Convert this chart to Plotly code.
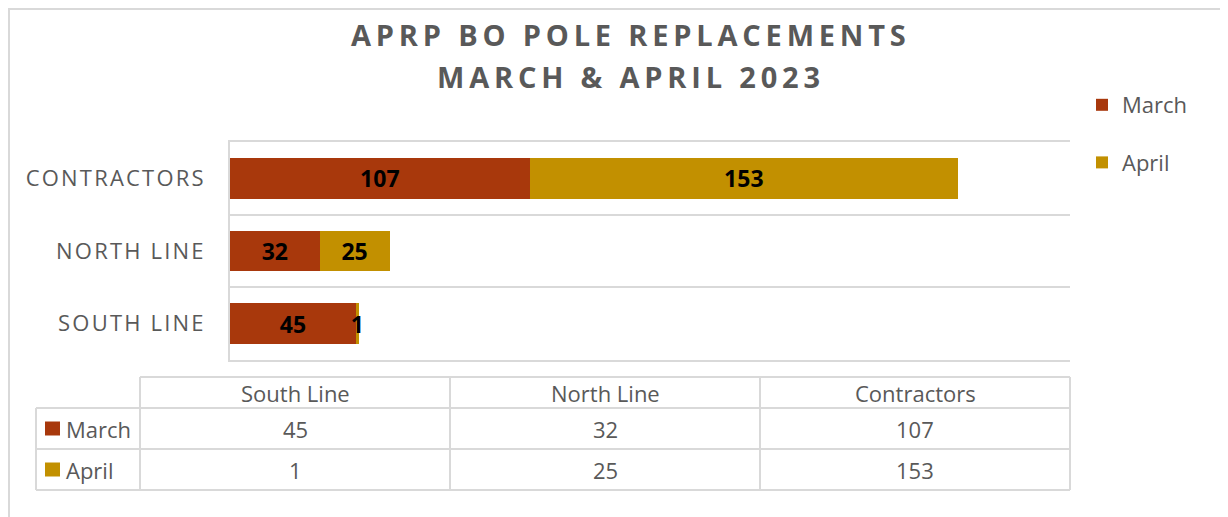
import plotly.graph_objects as go

# ---- data ----
categories = ["South Line", "North Line", "Contractors"]
series_names = ["March", "April"]
march = [45, 32, 107]
april = [1, 25, 153]
series_values = [march, april]
colors = ["#A8380C", "#C29000"]
title_lines = ["APRP BO POLE REPLACEMENTS", "MARCH & APRIL 2023"]

W, H = 1228, 517
OFF = 8  # page body margin: figure starts 8px right/down in the screenshot
GRAY = "#595959"
LINE = "#D9D9D9"
FONT = "Open Sans, Segoe UI, Noto Sans, sans-serif"


def px(x):
    return (x - OFF) / W


def py(y):
    return 1 - (y - OFF) / H


def spaced(s, sep="\u2009"):
    return sep.join(list(s))


fig = go.Figure()
for i, name in enumerate(series_names):
    fig.add_trace(go.Bar(
        y=categories, x=series_values[i], name=name, orientation="h",
        marker=dict(color=colors[i], line=dict(width=0)),
        text=series_values[i], texttemplate="<b>%{x}</b>",
        textposition="inside", insidetextanchor="middle", constraintext="none",
        textfont=dict(family=FONT, size=23, color="black"),
        legendgroup=name, cliponaxis=False, hoverinfo="skip",
    ))

# plot area in screen pixels: x 230..1070, y 142..360
fig.update_layout(
    width=W, height=H, margin=dict(l=0, r=0, t=0, b=0),
    paper_bgcolor="white", plot_bgcolor="white",
    barmode="stack", bargap=0.44,
    font=dict(family=FONT, color=GRAY),
    xaxis=dict(domain=[px(230), px(1070)], range=[0, 300], showgrid=False,
               showticklabels=False, zeroline=False,
               showline=True, mirror=True, linecolor=LINE, linewidth=2, ticks="",
               fixedrange=True),
    yaxis=dict(domain=[py(360), py(142)], type="category", tickson="boundaries",
               showgrid=True, gridcolor=LINE, gridwidth=2,
               showline=True, linecolor=LINE, linewidth=2,
               ticks="", ticklabelstandoff=20,
               tickvals=categories,
               ticktext=[spaced(c.upper(), "\u200a") for c in categories],
               tickfont=dict(family=FONT, size=22, color=GRAY), fixedrange=True),
    showlegend=True,
    legend=dict(x=px(1082), y=py(84), xanchor="left", yanchor="top",
                font=dict(family=FONT, size=22, color=GRAY),
                traceorder="grouped", tracegroupgap=26, bgcolor="rgba(0,0,0,0)"),
)

annotations = []
shapes = []

# title
for k, line in enumerate(title_lines):
    annotations.append(dict(
        x=px(628), y=py(34 + 42 * k), xref="paper", yref="paper",
        text="<b>" + spaced(line, "\u2009") + "</b>", showarrow=False,
        xanchor="center", yanchor="middle",
        font=dict(family=FONT, size=29, color=GRAY)))

# chart border (as close to the figure edge as the page allows)
shapes.append(dict(type="rect", xref="paper", yref="paper",
                   x0=px(9), x1=px(1225), y0=py(540), y1=py(9),
                   line=dict(color=LINE, width=2)))

# data table
t_left, leg_left = 140, 36
col_w = 310
y_head, y_r1, y_r2, y_end = 377, 408, 449, 490
t_right = t_left + col_w * len(categories)


def hline(x0, x1, y):
    shapes.append(dict(type="line", xref="paper", yref="paper",
                       x0=px(x0), x1=px(x1), y0=py(y), y1=py(y),
                       line=dict(color=LINE, width=2)))


def vline(x, y0, y1):
    shapes.append(dict(type="line", xref="paper", yref="paper",
                       x0=px(x), x1=px(x), y0=py(y0), y1=py(y1),
                       line=dict(color=LINE, width=2)))


hline(t_left, t_right, y_head)
for yy in (y_r1, y_r2, y_end):
    hline(leg_left, t_right, yy)
vline(leg_left, y_r1, y_end)
for j in range(len(categories) + 1):
    vline(t_left + j * col_w, y_head, y_end)

TFS = 22
for j, cat in enumerate(categories):
    cx = t_left + col_w * (j + 0.5)
    annotations.append(dict(x=px(cx), y=py((y_head + y_r1) / 2), xref="paper", yref="paper",
                            text=cat, showarrow=False, xanchor="center", yanchor="middle",
                            font=dict(family=FONT, size=TFS, color=GRAY)))
row_tops = [y_r1, y_r2]
for i, name in enumerate(series_names):
    cy = row_tops[i] + (y_r2 - y_r1) / 2
    shapes.append(dict(type="rect", xref="paper", yref="paper",
                       x0=px(45), x1=px(60), y0=py(cy + 7), y1=py(cy - 7),
                       fillcolor=colors[i], line=dict(width=0)))
    annotations.append(dict(x=px(64), y=py(cy), xref="paper", yref="paper",
                            text=name, showarrow=False, xanchor="left", yanchor="middle",
                            font=dict(family=FONT, size=TFS, color=GRAY)))
    for j, v in enumerate(series_values[i]):
        cx = t_left + col_w * (j + 0.5)
        annotations.append(dict(x=px(cx), y=py(cy), xref="paper", yref="paper",
                                text=str(v), showarrow=False, xanchor="center", yanchor="middle",
                                font=dict(family=FONT, size=TFS, color=GRAY)))

fig.update_layout(annotations=annotations, shapes=shapes)
fig.write_html("out.html")
